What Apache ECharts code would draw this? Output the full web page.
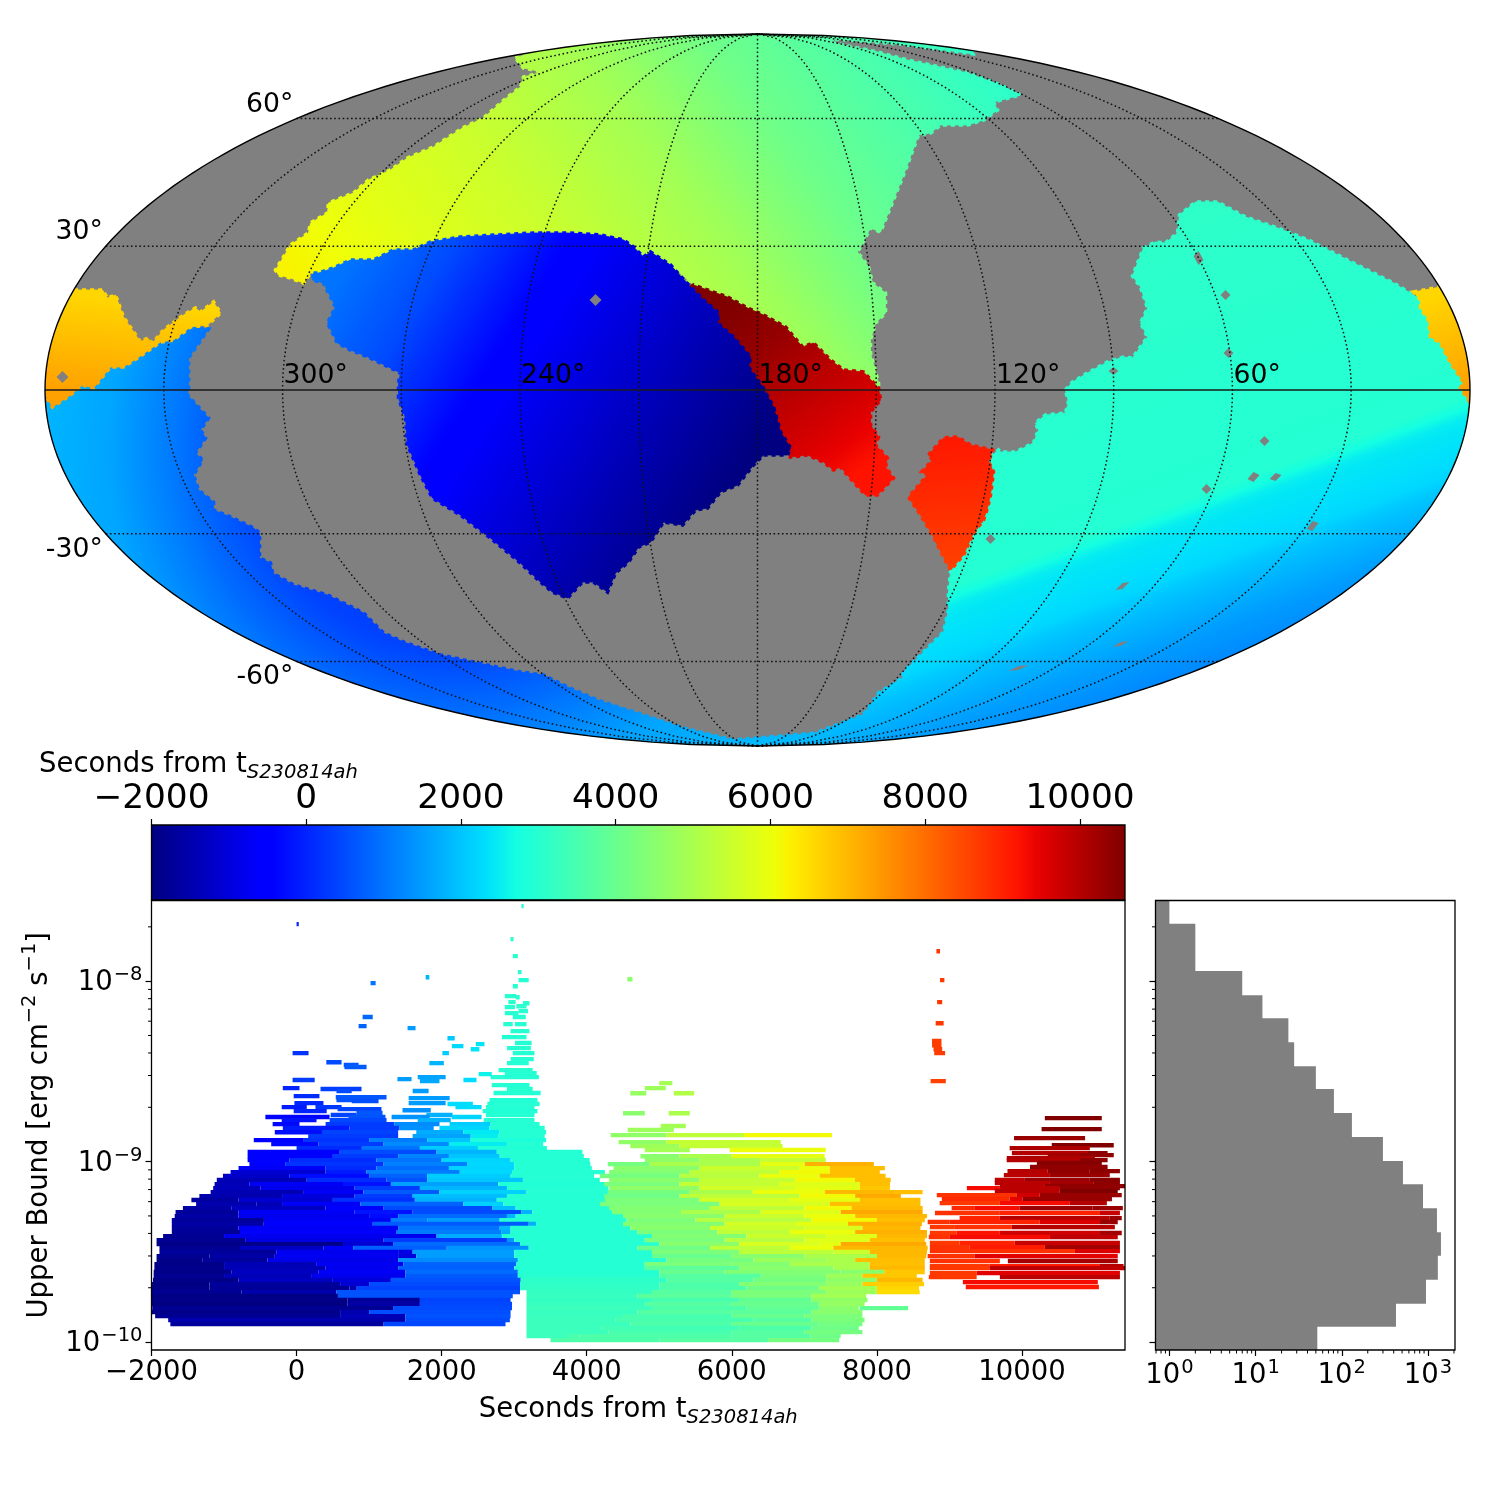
<!DOCTYPE html>
<html><head><meta charset="utf-8">
<script src="https://cdn.jsdelivr.net/npm/echarts@6/dist/echarts.min.js"></script>
<style>html,body{margin:0;padding:0;background:#fff}#c{width:1500px;height:1500px}</style>
</head><body><div id="c"></div>
<script>
// ---------- colour scale limits ----------
const T_MIN = -2000, T_MAX = 10582;
const T_AXIS_MAX = 11420;
const Y_LOG_MIN = -10.044, Y_LOG_MAX = -7.553;
const COLORBAR_TICKS = [-2000,0,2000,4000,6000,8000,10000];
const TIME_TICKS = [-2000,0,2000,4000,6000,8000,10000];
const UB_TICKS = [1e-10,1e-9,1e-8];
const UB_MINOR = [2e-8,9e-9,8e-9,7e-9,6e-9,5e-9,4e-9,3e-9,2e-9,9e-10,8e-10,7e-10,6e-10,5e-10,4e-10,3e-10,2e-10];
const COUNT_TICKS = [1,10,100,1000];
const COUNT_MINOR = [0.7,0.8,0.9,2,3,4,5,6,7,8,9,20,30,40,50,60,70,80,90,200,300,400,500,600,700,800,900,2000];
const LON_GRID = [30,60,90,120,150,180,210,240,270,300,330];
const LAT_GRID = [60,30,-30,-60];
const LON_LABELS = [300,240,180,120,60];
const LAT_LABELS = [60,30,-30,-60];

// ---------- histogram (log10 bin edges, counts) ----------
const histEdges = [-7.553,-7.682,-7.943,-8.078,-8.205,-8.338,-8.471,-8.598,-8.731,-8.864,-8.997,-9.125,-9.258,-9.391,-9.516,-9.649,-9.782,-9.910,-10.044];
const histCounts = [1,2,7,12,24,28,50,81,131,300,512,875,1270,1413,1300,947,425,52];

// ---------- sky regions, Mollweide-plane coordinates ----------
const limeRegion = [[-242,332],[-224,338],[-157,348],[-77,355],[0,357],[83,354],[143,349],[216,340],[216,336],[143,346],[76,351],[76,347],[120,338],[150,330],[210,317],[243,305],[263,295],[236,288],[240,280],[226,270],[210,265],[183,265],[173,257],[161,255],[148,220],[136,190],[123,158],[113,162],[105,147],[100,138],[111,123],[115,107],[128,97],[128,77],[118,67],[113,50],[113,37],[121,7],[121,2],[106,18],[86,20],[73,30],[56,47],[45,43],[28,63],[6,75],[-10,82],[-30,93],[-50,100],[-64,105],[-87,125],[-107,138],[-114,133],[-124,143],[-134,150],[-157,155],[-190,157],[-224,157],[-297,153],[-327,148],[-344,140],[-364,140],[-384,130],[-407,130],[-424,122],[-439,117],[-447,117],[-454,107],[-467,112],[-479,115],[-482,120],[-474,133],[-467,145],[-449,157],[-447,167],[-430,177],[-429,187],[-404,197],[-389,210],[-367,220],[-350,232],[-324,243],[-295,262],[-274,272],[-250,293],[-237,303],[-234,313],[-215,318],[-234,322]];
const blueRegion = [[-444,117],[-439,117],[-424,122],[-407,130],[-384,130],[-364,140],[-344,140],[-327,148],[-297,153],[-224,157],[-190,157],[-157,155],[-134,150],[-124,143],[-114,133],[-107,138],[-87,125],[-67,103],[-54,90],[-39,77],[-40,67],[-24,53],[-7,33],[-9,23],[5,3],[16,-17],[23,-42],[33,-58],[30,-65],[16,-65],[6,-65],[-4,-75],[-20,-95],[-37,-102],[-50,-118],[-62,-120],[-75,-135],[-94,-132],[-107,-152],[-119,-157],[-129,-172],[-142,-183],[-150,-202],[-164,-192],[-175,-192],[-190,-208],[-205,-202],[-217,-192],[-237,-173],[-267,-148],[-297,-125],[-325,-108],[-337,-85],[-350,-55],[-352,-28],[-359,-8],[-359,7],[-357,17],[-377,27],[-394,35],[-407,40],[-420,47],[-430,67],[-422,83],[-434,107],[-445,110]];
const redRegion = [[-67,103],[-64,105],[-50,100],[-30,93],[-10,82],[6,75],[28,63],[45,43],[56,47],[73,30],[86,20],[106,18],[121,2],[123,-10],[113,-22],[113,-35],[121,-47],[118,-55],[130,-68],[128,-77],[136,-88],[120,-105],[108,-105],[96,-92],[83,-77],[76,-80],[66,-72],[50,-65],[33,-67],[33,-58],[23,-42],[16,-17],[5,3],[-9,23],[-7,33],[-24,53],[-40,67],[-39,77],[-54,90]];
const islandRegion = [[171,-65],[186,-48],[200,-47],[213,-55],[235,-60],[231,-72],[236,-82],[233,-105],[230,-118],[226,-130],[216,-143],[206,-165],[193,-180],[185,-165],[175,-145],[163,-125],[151,-107],[170,-85],[164,-82],[175,-70]];
const tealRegion = [[308,0],[315,8],[330,17],[350,28],[366,33],[375,32],[390,53],[383,67],[390,82],[383,103],[375,114],[386,142],[398,148],[408,147],[420,157],[422,175],[438,188],[460,188],[488,173],[520,162],[551,150],[590,130],[636,107],[656,95],[663,90],[663,82],[671,70],[673,53],[683,47],[693,27],[706,8],[703,2],[711,-10],[708,-44],[683,-104],[660,-136],[643,-157],[620,-178],[593,-200],[543,-233],[490,-260],[443,-281],[393,-300],[343,-314],[243,-337],[143,-351],[43,-357],[58,-343],[105,-325],[113,-315],[121,-303],[145,-288],[146,-282],[166,-262],[186,-242],[191,-220],[191,-202],[193,-182],[205,-165],[216,-145],[226,-132],[233,-105],[236,-82],[233,-67],[241,-60],[243,-62],[258,-62],[276,-53],[281,-40],[278,-33],[288,-25],[308,-23],[311,-12]];
const rightTipRegion = [[656,98],[683,103],[700,68],[709,38],[714,0],[711,-10],[703,2],[706,8],[693,27],[683,47],[673,53],[671,70],[663,82],[663,90]];
const leftTipRegion = [[-714,2],[-709,35],[-702,62],[-690,90],[-684,100],[-674,100],[-655,100],[-650,92],[-642,95],[-634,73],[-617,48],[-610,52],[-605,47],[-594,60],[-574,75],[-562,82],[-557,78],[-544,88],[-537,77],[-550,65],[-567,63],[-584,50],[-597,48],[-620,32],[-634,23],[-647,23],[-664,2],[-675,5],[-687,-5],[-705,-17],[-714,-2]];
const bandRegion = [[-664,2],[-647,23],[-634,23],[-620,32],[-597,48],[-584,50],[-567,63],[-549,61],[-569,32],[-569,2],[-570,-5],[-549,-28],[-557,-40],[-552,-48],[-562,-63],[-555,-70],[-564,-85],[-559,-100],[-544,-112],[-544,-120],[-527,-127],[-504,-138],[-498,-143],[-498,-168],[-487,-173],[-485,-183],[-464,-195],[-430,-205],[-394,-223],[-374,-243],[-354,-252],[-317,-265],[-284,-272],[-237,-282],[-214,-285],[-190,-297],[-160,-310],[-114,-325],[-74,-338],[-24,-350],[58,-343],[43,-357],[0,-358],[-107,-354],[-157,-349],[-207,-343],[-257,-334],[-300,-325],[-357,-310],[-410,-293],[-457,-275],[-490,-260],[-520,-245],[-557,-224],[-590,-202],[-620,-178],[-640,-159],[-657,-140],[-680,-108],[-697,-76],[-705,-54],[-710,-32],[-714,-10],[-705,-17],[-687,-5],[-675,5]];
// gradient anchors: start and end in the plane, then [fraction, seconds]
const limeField = {from:[-467,125], to:[87,523], t:[[0,6200],[.33,5500],[.53,4900],[.69,4100],[1,3100]]};
const blueField = {from:[-427,100], to:[-50,-135], t:[[0,1000],[.18,500],[.41,-500],[.72,-1300],[1,-2000]]};
const redField = {from:[-57,95], to:[85,-95], t:[[0,10700],[.33,10350],[.53,10000],[.73,9700],[1,9200]]};
const islandField = {from:[190,-45], to:[205,-175], t:[[0,9150],[1,8600]]};
const tealField = {from:[443,170], to:[601,-261], t:[[0,3100],[.39,2980],[.564,2950],[.586,2700],[.608,2450],[.706,2250],[.739,2000],[.847,1500],[.935,1200],[1,1000]]};
const rightTipField = {from:[668,90], to:[708,-5], t:[[0,6600],[1,7350]]};
const leftTipField = {from:[-677,95], to:[-687,0], t:[[0,6600],[1,7300]]};
const bandField = {center:[-307,-60], r:420, t:[[0,-200],[.476,400],[.643,1000],[.81,1600],[1,1850]]};
// [x, y, half width, half height, tilt]
const skyHoles = [[-162,90,6,6,0],[-695,13,6,6,0],[441,132,5,7,-2],[468,95,5,5,0],[471,37,5,5,0],[356,19,5,4,0],[507,-51,5,5,0],[449,-99,5,5,0],[496,-87,6,5,2],[518,-87,6,4,2],[555,-136,6,5,3],[233,-149,5,5,0],[365,-196,7,3,4],[363,-254,8,2,3],[261,-278,10,2,3]];

// ---------- upper-bound bars: [log10 UB, t start, t end, colour seconds] ----------
const sparseBars = [
[-7.584,3100,3130,2950],[-7.684,0,30,0],[-7.767,2950,2990,3000],[-7.861,2980,3050,3050],[-7.950,3050,3100,3000],[-7.994,3060,3200,2950],[-8.028,2980,3050,3000],[-8.011,1020,1090,1000],[-7.978,1780,1830,1800],[-7.989,4560,4630,4500],[-8.083,2870,3030,3050],[-8.089,3020,3075,3000],[-8.116,2920,3020,3050],[-8.122,3120,3210,3000],[-8.144,2870,3010,3000],[-8.139,3030,3170,3050],[-8.177,2870,3060,3000],[-8.166,3060,3190,3000],[-8.199,2980,3160,2950],[-8.199,910,1050,850],[-8.238,2850,2980,3000],[-8.238,3010,3170,2950],[-8.249,855,965,800],[-8.260,1530,1640,1500],[-8.277,2950,3210,3000],[-8.310,2830,3170,2950],[-8.316,2080,2180,2050],[-8.343,3010,3240,2950],[-8.360,2140,2300,2250],[-8.349,2470,2590,2400],[-8.377,2400,2520,2400],[-8.371,2900,3230,3000],[-8.399,2980,3280,2950],[-8.399,2010,2100,2100],[-8.399,-55,165,200],[-8.432,2950,3270,2950],[-8.454,2900,3200,2950],[-8.454,1830,2030,1800],[-8.449,410,620,500],[-8.465,650,855,650],[-8.476,660,965,700],[-8.493,2785,3255,3000],[-8.510,2870,3310,2950],[-8.532,2675,3340,2950],[-8.532,1670,2055,1600],[-8.548,-55,250,300],[-8.548,2300,2480,2300],[-8.543,1390,1585,1500],[-8.554,1700,1970,1650],[-8.515,2510,2690,2600],[-8.576,2690,3210,2950],[-8.593,-190,40,0],[-8.598,330,895,350],[-8.598,2900,3255,3000],[-8.609,550,760,500],[-8.609,1600,1820,1500],[-8.620,2715,3365,2950],[-8.637,-40,315,100],[-8.643,540,1240,650],[-8.648,1545,2110,1500],[-8.659,550,895,600],[-8.659,2660,3320,2900],[-8.665,760,1130,550],[-8.676,-30,370,50],[-8.676,1545,2055,1500],[-8.681,2080,2430,2300],[-8.681,2630,3350,2950],[-8.698,-205,140,-100],[-8.698,260,620,250],[-8.698,2190,2550,2300],[-8.698,2610,3280,2950],[-8.709,565,1170,400],[-8.715,1460,1850,1350],[-8.720,-40,415,0],[-8.720,2565,3320,2900],[-8.731,825,1185,650],[-8.742,470,825,400],[-8.742,1790,2150,1750],[-8.742,2610,3280,2950],[-8.753,-430,455,-400],[-8.753,715,1225,600],[-8.753,1310,1835,1400],[-8.753,2140,2550,2200],[-8.770,-205,275,-200],[-8.770,455,1240,450],[-8.770,1670,2125,1750],[-8.770,2580,3280,2950],[-8.792,-330,40,-350],[-8.792,400,1350,300],[-8.792,1350,1970,1300],[-8.792,2110,2675,2100],[-8.792,2675,3350,2950],[-8.814,-190,730,-100],[-8.814,730,1420,300],[-8.814,1420,1890,1350],[-8.814,1970,2660,2200],[-8.814,2660,3420,2950],
[-8.837,-300,350,-250],[-8.837,350,1400,400],[-8.837,1650,2300,1700],[-8.837,2300,2800,2450],[-8.837,2800,3440,2950],
[-8.859,160,1400,300],[-8.859,1600,2400,1600],[-8.859,2400,2780,2500],[-8.859,2780,3420,2950],
[-8.881,-590,100,-450],[-8.881,100,1000,200],[-8.881,1000,1800,1100],[-8.881,1800,2400,2000],[-8.881,2400,3440,2850],
[-8.903,-350,300,-350],[-8.903,300,1200,300],[-8.903,1200,2100,1300],[-8.903,2100,2900,2500],[-8.903,2900,3400,2950],
[-8.925,0,900,100],[-8.925,900,1700,1000],[-8.925,1700,2500,2100],[-8.925,2500,3450,2900],
// upper green cloud and isolated rows
[-8.565,5000,5180,4900],[-8.593,4800,5090,4800],[-8.621,4600,4820,4700],[-8.621,5200,5480,5100],[-8.732,4500,4800,4500],[-8.732,5130,5420,5000],[-8.803,5020,5365,4900],
[-8.825,4565,5200,4800],[-8.853,4330,5100,4600],[-8.853,5100,6180,5300],[-8.853,6165,7380,6100],
[-8.892,4440,5100,4600],[-8.892,5100,6675,5400],[-8.914,4600,5280,4800],[-8.914,5280,6700,5400],[-8.936,4800,5420,4900],[-8.936,5970,7295,6000],
[-7.834,8820,8870,8700],[-7.994,8870,8930,8700],[-8.116,8830,8900,8700],[-8.233,8810,8920,8700],[-8.332,8760,8890,8650],[-8.355,8760,8890,8650],[-8.377,8780,8900,8650],[-8.399,8790,8940,8650],[-8.554,8740,8950,8600],
[-9.812,7760,8430,3900]
];
const blueRows = [
[-8.947,-675,-600,595,500,1930,1800,2760,2950,3940],
[-8.970,-675,-500,500,300,1400,1200,2100,2000,2800,2950,3960],
[-8.992,-675,-600,-100,100,1100,1000,2000,2200,2950,2950,4040],
[-9.014,-650,-600,-150,200,1200,1150,2350,2240,3000,2950,4050],
[-9.036,-800,-700,400,100,1100,900,2100,2200,3000,2950,4070],
[-9.058,-910,-1100,400,-100,960,1100,2250,2250,2970,2950,4250],
[-9.080,-1015,-1200,-100,-300,1000,800,1800,2100,2950,2950,4100],
[-9.102,-1100,-1400,140,100,1240,600,1800,2000,3120,2950,4180],
[-9.125,-1130,-1400,-650,-700,640,-200,1300,1550,2780,2900,4420],
[-9.147,-1150,-1350,-500,-800,800,300,1700,1800,2900,2950,4300],
[-9.169,-1185,-1450,90,-700,920,700,1970,2150,3170,2950,4400],
[-9.191,-1340,-1500,-200,-1000,800,300,1600,1900,2900,2950,4420],
[-9.213,-1450,-1650,-800,-1100,500,170,1630,1770,2760,2950,4300],
[-9.235,-1385,-1500,-550,-1400,-200,-700,880,800,2300,2140,2850,2950,4400],
[-9.258,-1567,-1600,-900,-1300,400,-500,1200,500,2700,1900,3020,2950,4420],
[-9.280,-1668,-1700,-800,-700,800,-200,1600,500,3100,1770,3250,2950,4350],
[-9.302,-1680,-1600,-800,-800,1000,-300,1400,900,2900,1800,3020,2950,4500],
[-9.324,-1720,-1700,-450,-700,1300,1100,1800,1500,2800,2950,4550],
[-9.346,-1720,-1600,-460,-600,1050,700,3200,1750,3300,2950,4500],
[-9.368,-1720,-1700,-800,-700,1400,1000,2800,1800,2950,2950,4600],
[-9.391,-1720,-1750,-780,-650,1380,1100,2820,1700,2950,2950,4700],
[-9.413,-1840,-1800,-1000,-800,1930,1700,2830,2950,4900],
[-9.435,-1930,-1800,-700,-900,1200,300,2900,1400,3000,2950,4800],
[-9.457,-1930,-1900,640,-1100,1330,900,3080,2950,5000],
[-9.479,-1890,-1800,-780,-1300,370,-700,780,760,2070,1400,3200,2950,4700],
[-9.501,-1890,-1700,-280,-800,1400,-900,1600,1500,3000,2950,4900],
[-9.524,-1930,-1800,-1200,-1600,-300,-750,1400,-1000,1650,1500,3000,2950,4900],
[-9.546,-1930,-1900,-1300,-1700,-400,-850,1400,1300,3050,2950,5100],
[-9.568,-1960,-1900,-1000,-1400,270,-750,1470,800,3030,2950,4800],
[-9.590,-1960,-1850,-1000,-1400,400,-800,1400,760,3000,2950,4800],
[-9.612,-1970,-1900,-900,-1300,300,-700,1500,900,3050,2950,5000],
[-9.634,-1970,-1800,-1000,-1400,200,-800,1500,700,3050,3000,5000],
[-9.656,-1980,-1900,-800,-1300,500,-1000,1300,600,3090,3100,5100],
[-9.679,-2000,-1950,-1200,-1700,600,-1100,1000,500,3080,3100,5000],
[-9.701,-2000,-1900,-1200,-1720,730,-1400,830,400,3080,3150,5000],
[-9.723,-2000,-1800,-760,-1500,550,600,3080],[-9.723,3170,3200,4900],
[-9.745,-2000,-1950,570,600,2980],[-9.745,3170,3250,4700],
[-9.767,-2000,-1900,700,-1700,1700,400,2950],[-9.767,3170,3200,4900],
[-9.789,-2000,-1980,700,-1600,1700,450,2970],[-9.789,3170,3250,4800],
[-9.812,-1990,-1800,1330,500,2970],[-9.812,3170,3300,4900],
[-9.834,-2000,-1900,600,-1500,1000,530,2950],[-9.834,3170,3250,4700],
[-9.856,-1950,-1800,600,-1400,1500,600,2950],
[-9.878,-1770,-1500,1500,500,2940],
[-9.900,-1740,-1700,1200,450,2880]
];
const greenRows = [
[-8.970,4740,4500,5280,5000,6000,5900,7280],
[-8.992,4800,4600,5557,5000,6390,5400,7295],
[-9.014,4290,4200,4870,5000,6390,5900,7005,7100,7957],
[-9.036,4370,4500,5557,5500,6936,6000,7350,6900,8110],
[-9.058,4310,4400,5420,5300,6660,6100,7350,6900,8040],
[-9.080,4180,4200,5280,5200,6380,6000,7210,6900,8120],
[-9.102,4310,4500,5557,5400,6870,6100,7695,6900,8190],
[-9.125,4240,4300,5280,5400,6660,5800,7764,6900,8180],
[-9.147,4310,4600,5557,5600,6870,5900,7764,6800,8180],
[-9.169,4290,4200,5420,5000,6290,6000,7280,7000,8247,6900,8630],
[-9.191,4240,4100,5280,5300,6936,6100,7700,7200,8330],
[-9.213,4250,4300,5557,5600,6800,5900,7764,6900,8600],
[-9.235,4180,4300,5833,5700,7350,6900,8600],
[-9.258,4310,4400,5700,5300,7000,6100,7650,7000,8630],
[-9.280,4350,4400,5300,5000,6400,5800,7500,7200,8630],
[-9.302,4500,4500,5900,5500,7000,6000,7700,7000,8690],
[-9.324,4550,4300,5500,5200,7100,6100,8000,6900,8660],
[-9.346,4500,4400,5900,5600,6900,5900,7600,7100,8620],
[-9.368,4600,4500,5700,5500,7000,5700,7800,7000,8600],
[-9.391,4700,4300,5800,5300,6800,6000,7700,7100,8690],
[-9.413,4900,4400,6200,5500,7300,5800,8000,7000,8690],
[-9.435,4800,4300,5900,5200,7000,5800,7900,6900,8660],
[-9.457,5000,4500,6100,5700,7200,5900,7500,7200,8680],
[-9.479,4700,4100,5700,5300,6800,6000,7400,7000,8700],
[-9.501,4900,4300,6100,5300,7400,5500,7900,7000,8690],
[-9.524,4900,4000,6000,4500,7000,5000,8000,7000,8680],
[-9.546,5100,4200,6300,4800,7300,5000,7700,6900,8660],
[-9.568,4800,4300,6000,4400,6800,5000,7900,6900,8660],
[-9.590,4800,3800,6100,4500,7400,5000,7900,7000,8660],
[-9.612,5000,4000,5900,4400,7500,4500,8100,6800,8660],
[-9.634,5000,3700,6400,4300,7300,4800,7800,6800,8550],
[-9.656,5100,3700,6300,4200,7300,4600,8000,7000,8630],
[-9.679,5000,3600,6100,4400,7300,4700,7800,6700,8650],
[-9.701,5000,3600,6200,4100,7200,4900,8000,6600,8580],
[-9.723,4900,3700,6000,4300,7300,4800,8000,6500,8590],
[-9.745,4700,3800,6000,4300,7100,4900,7850],
[-9.767,4900,3500,6100,3900,7100,4600,7870],
[-9.789,4800,3700,6000,4000,7200,4700,7830],
[-9.812,4900,3600,6200,3900,7200,4500,7750],
[-9.834,4700,3700,6000,3800,7100,4500,7800],
[-9.856,3170,3300,4500,3500,6000,4000,7000,4300,7800],
[-9.878,3170,3300,4400,3500,6300,3700,7100,4300,7830],
[-9.900,3170,3300,4600,3600,6000,4000,7200,4200,7800],
[-9.922,3170,3300,4200,3400,6100,3600,7100,4100,7750],
[-9.945,3170,3300,4300,3500,6000,3700,7000,4200,7800],
[-9.967,3170,3300,3700,3500,3900,3600,6000,3700,7080,4100,7500],
[-9.989,3500,3600,5000,3700,6500,4200,7480]
];
const redRows = [
[-8.759,10315,10700,11100],
[-8.820,10270,10700,11100],
[-8.870,9890,10300,10870],
[-8.909,10410,10700,11265],
[-8.925,9830,10100,10935],
[-8.953,9860,10000,10910,10450,11180],
[-8.964,10355,10200,10800,10400,11265],
[-8.981,9790,10100,11005],
[-8.992,9790,10000,10800,10450,11180],
[-9.008,10205,10500,11100],
[-9.030,10110,10400,11180],
[-9.053,9800,10000,10355,10400,10935,10450,11350],
[-9.075,9750,9950,10385,10300,11210],
[-9.102,9625,9900,10040,10300,10935,10500,11350],
[-9.119,9625,9950,10385,10200,10990,10450,11350],
[-9.136,9695,9950,10315,10400,11420],
[-9.147,9240,9300,9695,9950,10520,10400,11350],
[-9.163,9625,9950,10520,10580,11320],
[-9.186,8825,8800,9930,9700,10245,10300,11375],
[-9.208,8895,8900,9830,9500,10010,10300,11240],
[-9.230,8865,8700,9695,9300,10660,10000,11170],
[-9.258,9030,8900,9350,9300,9970,10300,10975,10300,11390],
[-9.285,8800,8800,9695,9000,11075,9800,11350],
[-9.313,9140,9000,9695,10000,11210,10300,11375],
[-9.335,8700,8800,9005,9000,10245,9600,11075,10300,11320],
[-9.363,8730,8700,9075,8800,9860,10000,11280],
[-9.396,8730,8700,9100,9200,9695,9700,11075,10200,11375],
[-9.418,8715,8800,9005,9300,10385,9900,11320],
[-9.451,8730,8700,9140,9000,9900,9800,11350],
[-9.474,8730,8800,9280,9100,10315,10200,11350],
[-9.496,8730,8800,10730,9600,11350],
[-9.524,8700,8800,9350,9500,11320],
[-9.551,8730,8800,9695],[-9.551,9805,10200,11320],
[-9.579,8730,8700,9555,9100,11075,10000,11400],
[-9.590,8730,8700,9555,9900,11420],
[-9.618,8730,8700,9375,9500,11350],
[-9.640,8715,8700,9375],[-9.640,9695,9950,11350],
[-9.668,9185,9300,11045],
[-9.695,9225,9150,11060]
];

// ---------- jet colour map ----------
const interp=(x,p)=>{for(let i=1;i<p.length;i++){if(x<=p[i][0]){const a=p[i-1],b=p[i];return a[1]+(b[1]-a[1])*(x-a[0])/(b[0]-a[0]);}}return p[p.length-1][1];};
const JR=[[0,0],[.35,0],[.66,1],[.89,1],[1,.5]],JG=[[0,0],[.125,0],[.375,1],[.64,1],[.91,0],[1,0]],JB=[[0,.5],[.11,1],[.34,1],[.65,0],[1,0]];
function jet(t){const f=Math.max(0,Math.min(1,(t-T_MIN)/(T_MAX-T_MIN)));
  return `rgb(${Math.round(255*interp(f,JR))},${Math.round(255*interp(f,JG))},${Math.round(255*interp(f,JB))})`;}
function fieldStops(anchors){const out=[];for(let i=0;i<=48;i++){const f=i/48;out.push({offset:f,color:jet(interp(f,anchors))});}return out;}

// ---------- Mollweide projection (plane scale) ----------
const RX=712.5,RY=356;
function moll(lon,lat){const phi=lat*Math.PI/180;let th=phi;
  if(Math.abs(lat)>=90)th=phi;else for(let i=0;i<60;i++){const d=(2*th+Math.sin(2*th)-Math.PI*Math.sin(phi))/(2+2*Math.cos(2*th)+1e-12);th-=d;if(Math.abs(d)<1e-9)break;}
  return [-(lon-180)/180*RX*Math.cos(th),RY*Math.sin(th)];}
const latSteps=[];for(let a=-90;a<=90;a+=3)latSteps.push(a);
const gratLines=[...LON_GRID.map(l=>latSteps.map(a=>moll(l,a))),...LAT_GRID.map(a=>[moll(360,a),moll(0,a)])];
const rimPts=[];for(let a=-90;a<=90;a+=1.5)rimPts.push(moll(360,a));for(let a=90;a>=-90;a-=1.5)rimPts.push(moll(0,a));

const skyRegions=[
 {p:bandRegion,f:bandField},{p:tealRegion,f:tealField},{p:limeRegion,f:limeField},{p:redRegion,f:redField},
 {p:blueRegion,f:blueField},{p:islandRegion,f:islandField},{p:rightTipRegion,f:rightTipField},{p:leftTipRegion,f:leftTipField}];

const FONT='DejaVu Sans',FS=27.5,FS_SKY=26.7,FS_SUB=19.5,FS_BIG=34.3;
const barData=[...sparseBars];
[blueRows,greenRows,redRows].forEach(rows=>rows.forEach(r=>{
  for(let i=1;i+2<r.length;i+=2)barData.push([r[0],r[i],r[i+2],r[i+1]]);}));
const sup=v=>String(v).replace('-','\u2212');
const richNum={b:{fontSize:FS,fontFamily:FONT,color:'#000',verticalAlign:'bottom',lineHeight:32},
  s:{fontSize:FS_SUB,fontFamily:FONT,color:'#000',verticalAlign:'top',lineHeight:32,padding:[0,0,0,1]}};
const richSub={a:{fontSize:FS,fontFamily:FONT,fontWeight:'normal',color:'#000',lineHeight:32,verticalAlign:'top'},
  b:{fontSize:FS_SUB,fontFamily:FONT,fontStyle:'italic',fontWeight:'normal',color:'#000',lineHeight:32,verticalAlign:'bottom'}};
const richUp={a:{fontSize:FS,fontFamily:FONT,color:'#000',lineHeight:34,verticalAlign:'bottom'},
  s:{fontSize:FS_SUB,fontFamily:FONT,color:'#000',lineHeight:34,verticalAlign:'top'}};
const expLabel=v=>`{b|10}{s|${sup(Math.round(Math.log10(v)))}}`;
const dashGrat=[1.6,2.6];

const option={
 animation:false,backgroundColor:'#fff',textStyle:{fontFamily:FONT},
 title:[{text:'{a|Seconds from t}{b|S230814ah}',left:34,top:746,textStyle:{fontWeight:'normal',rich:richSub}}],
 grid:[
  {left:45,top:34,width:1425,height:712,show:false},
  {left:151.5,top:825,width:973.5,height:75,show:true,borderColor:'#000',borderWidth:1.3,backgroundColor:'transparent',z:10},
  {left:151.5,top:900.5,width:973.5,height:449.5,show:true,borderColor:'#000',borderWidth:1.3,backgroundColor:'transparent',z:10},
  {left:1155.5,top:900.5,width:299.5,height:449.5,show:true,borderColor:'#000',borderWidth:1.3,backgroundColor:'transparent',z:10}
 ],
 xAxis:[
  {gridIndex:0,type:'value',min:-712.5,max:712.5,show:false},
  {gridIndex:1,type:'value',position:'top',min:T_MIN,max:T_MAX,splitLine:{show:false},axisLine:{show:false,onZero:false},
   axisTick:{length:6,lineStyle:{color:'#000',width:1.2},customValues:COLORBAR_TICKS},
   axisLabel:{fontSize:FS_BIG,color:'#000',margin:9,customValues:COLORBAR_TICKS,hideOverlap:false,formatter:sup}},
  {gridIndex:2,type:'value',min:T_MIN,max:T_AXIS_MAX,splitLine:{show:false},axisLine:{show:false,onZero:false},
   axisTick:{length:6,lineStyle:{color:'#000',width:1.2},customValues:TIME_TICKS},
   axisLabel:{fontSize:FS,color:'#000',margin:9,customValues:TIME_TICKS,hideOverlap:false,formatter:sup},
   name:'{a|Seconds from t}{b|S230814ah}',nameLocation:'middle',nameGap:46,nameTextStyle:{fontWeight:'normal',rich:richSub}},
  {gridIndex:3,type:'log',min:0.69,max:2056,splitLine:{show:false},axisLine:{show:false,onZero:false},
   axisTick:{length:6,lineStyle:{color:'#000',width:1.2},customValues:COUNT_TICKS},
   axisLabel:{color:'#000',margin:8,customValues:COUNT_TICKS,hideOverlap:false,formatter:expLabel,rich:richNum}}
 ],
 yAxis:[
  {gridIndex:0,type:'value',min:-356,max:356,show:false},
  {gridIndex:1,type:'value',min:0,max:1,show:false},
  {gridIndex:2,type:'log',min:Math.pow(10,Y_LOG_MIN),max:Math.pow(10,Y_LOG_MAX),splitLine:{show:false},axisLine:{show:false,onZero:false},
   axisTick:{length:6,lineStyle:{color:'#000',width:1.2},customValues:UB_TICKS},
   axisLabel:{color:'#000',margin:9,customValues:UB_TICKS,hideOverlap:false,formatter:expLabel,rich:richNum},
   name:'{a|Upper Bound [erg cm}{s|\u22122}{a| s}{s|\u22121}{a|]}',nameLocation:'middle',nameGap:98,nameRotate:90,nameTextStyle:{rich:richUp}},
  {gridIndex:3,type:'log',min:Math.pow(10,Y_LOG_MIN),max:Math.pow(10,Y_LOG_MAX),splitLine:{show:false},axisLine:{show:false,onZero:false},
   axisTick:{length:6,lineStyle:{color:'#000',width:1.2},customValues:UB_TICKS},axisLabel:{show:false,customValues:UB_TICKS}}
 ],
 series:[
  {type:'custom',name:'sky base',xAxisIndex:0,yAxisIndex:0,z:1,silent:true,data:[[0,0]],renderItem:(p,api)=>({type:'polygon',shape:{points:rimPts.map(q=>api.coord(q))},style:{fill:'#808080'}})},
  {type:'custom',name:'sky regions',xAxisIndex:0,yAxisIndex:0,z:2,silent:true,data:skyRegions.map((r,i)=>[i,0]),renderItem:(p,api)=>{
    const r=skyRegions[p.dataIndex],f=r.f;let fill;
    if(f.center){const c=api.coord(f.center),e=api.coord([f.center[0]+f.r,f.center[1]]);fill=new echarts.graphic.RadialGradient(c[0],c[1],e[0]-c[0],fieldStops(f.t),true);}
    else{const a=api.coord(f.from),b=api.coord(f.to);fill=new echarts.graphic.LinearGradient(a[0],a[1],b[0],b[1],fieldStops(f.t),true);}
    const pts=r.p.map(q=>api.coord(q));
    return {type:'group',clipPath:{type:'polygon',shape:{points:rimPts.map(q=>api.coord(q))}},children:[
      {type:'polygon',shape:{points:pts},style:{fill,stroke:fill,lineWidth:0.8}},
      {type:'polygon',shape:{points:pts},style:{fill:null,stroke:fill,lineWidth:3.6,lineDash:[4,4]}}]};}},
  {type:'custom',name:'sky holes',xAxisIndex:0,yAxisIndex:0,z:3,silent:true,data:skyHoles.map(h=>[h[0],h[1]]),renderItem:(p,api)=>{
    const h=skyHoles[p.dataIndex];
    return {type:'polygon',shape:{points:[[h[0]-h[2],h[1]-h[4]],[h[0],h[1]+h[3]],[h[0]+h[2],h[1]+h[4]],[h[0],h[1]-h[3]]].map(q=>api.coord(q))},style:{fill:'#808080'}};}},
  {type:'custom',name:'graticule',xAxisIndex:0,yAxisIndex:0,z:4,silent:true,data:gratLines.map((l,i)=>[i,0]),renderItem:(p,api)=>({type:'polyline',shape:{points:gratLines[p.dataIndex].map(q=>api.coord(q))},style:{fill:null,stroke:'#111',lineWidth:1.5,lineDash:dashGrat}})},
  {type:'custom',name:'equator and rim',xAxisIndex:0,yAxisIndex:0,z:5,silent:true,data:[[0,0],[1,0]],renderItem:(p,api)=>p.dataIndex===0?
    {type:'polyline',shape:{points:[moll(360,0),moll(0,0)].map(q=>api.coord(q))},style:{fill:null,stroke:'#1a1a1a',lineWidth:1.6}}:
    {type:'polygon',shape:{points:rimPts.map(q=>api.coord(q))},style:{fill:null,stroke:'#000',lineWidth:1.4}}},
  {type:'custom',name:'sky labels',xAxisIndex:0,yAxisIndex:0,z:6,silent:true,data:[...LON_LABELS.map(l=>[l,0,0]),...LAT_LABELS.map(a=>[0,a,1])],renderItem:(p,api)=>{
    const lon=api.value(0),lat=api.value(1);
    if(api.value(2)===0){const c=api.coord(moll(lon,0));return {type:'text',style:{x:c[0]+1,y:c[1]-14,text:lon+'\u00B0',fontSize:FS_SKY,fontFamily:FONT,fill:'#000',align:'left',verticalAlign:'middle'}};}
    const c=api.coord(moll(360,lat));
    return {type:'text',style:{x:c[0]-3,y:c[1]+(lat>0?-14:16),text:lat+'\u00B0',fontSize:FS_SKY,fontFamily:FONT,fill:'#000',align:'right',verticalAlign:'middle'}};}},
  {type:'custom',name:'colour bar',xAxisIndex:1,yAxisIndex:1,z:2,silent:true,data:[[T_MIN,0,T_MAX,1]],renderItem:(p,api)=>{
    const a=api.coord([T_MIN,1]),b=api.coord([T_MAX,0]);const st=[];for(let i=0;i<=64;i++)st.push({offset:i/64,color:jet(T_MIN+(T_MAX-T_MIN)*i/64)});
    return {type:'rect',shape:{x:a[0],y:a[1],width:b[0]-a[0],height:b[1]-a[1]},style:{fill:new echarts.graphic.LinearGradient(a[0],0,b[0],0,st,true)}};}},
  {type:'custom',name:'upper bounds',xAxisIndex:2,yAxisIndex:2,z:3,silent:true,clip:true,
   encode:{x:[1,2],y:0},data:barData.map(b=>[Math.pow(10,b[0]),b[1],b[2],b[3]]),renderItem:(p,api)=>{
    const a=api.coord([api.value(1),api.value(0)]),e=api.coord([api.value(2),api.value(0)]);
    return {type:'rect',shape:{x:a[0],y:a[1]-2.2,width:e[0]-a[0],height:4.4},style:{fill:jet(api.value(3))}};}},
  {type:'custom',name:'histogram',xAxisIndex:3,yAxisIndex:3,z:3,silent:true,clip:true,
   data:histCounts.map((c,i)=>[c,Math.pow(10,histEdges[i]),Math.pow(10,histEdges[i+1])]),encode:{x:0,y:[1,2]},renderItem:(p,api)=>{
    const a=api.coord([0.69,api.value(1)]),b=api.coord([api.value(0),api.value(2)]);
    return {type:'rect',shape:{x:a[0],y:a[1],width:b[0]-a[0],height:b[1]-a[1]+1},style:{fill:'#808080'}};}},
  {type:'custom',name:'minor y main',xAxisIndex:2,yAxisIndex:2,z:12,silent:true,data:UB_MINOR.map(v=>[T_MIN,v]),renderItem:(p,api)=>{
    const c=api.coord([api.value(0),api.value(1)]);return {type:'line',shape:{x1:c[0],y1:c[1],x2:c[0]-3.5,y2:c[1]},style:{stroke:'#000',lineWidth:1}};}},
  {type:'custom',name:'minor y hist',xAxisIndex:3,yAxisIndex:3,z:12,silent:true,data:UB_MINOR.map(v=>[0.69,v]),renderItem:(p,api)=>{
    const c=api.coord([api.value(0),api.value(1)]);return {type:'line',shape:{x1:c[0],y1:c[1],x2:c[0]-3.5,y2:c[1]},style:{stroke:'#000',lineWidth:1}};}},
  {type:'custom',name:'minor x hist',xAxisIndex:3,yAxisIndex:3,z:12,silent:true,data:COUNT_MINOR.map(v=>[v,Math.pow(10,Y_LOG_MIN)]),renderItem:(p,api)=>{
    const c=api.coord([api.value(0),api.value(1)]);return {type:'line',shape:{x1:c[0],y1:c[1],x2:c[0],y2:c[1]+3.5},style:{stroke:'#000',lineWidth:1}};}}
 ]
};
const chart=echarts.init(document.getElementById('c'),null,{renderer:'canvas',width:1500,height:1500});
chart.setOption(option);
</script></body></html>
